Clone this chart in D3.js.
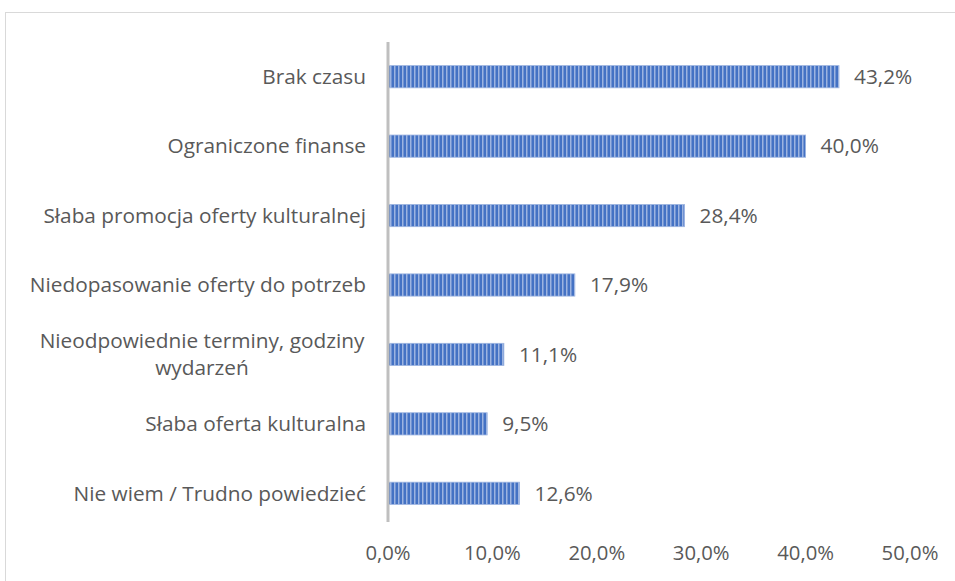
<!DOCTYPE html>
<html>
<head>
<meta charset="utf-8">
<script src="https://cdn.jsdelivr.net/npm/d3@7"></script>
<style>
  body { margin: 0; background: #fff; }
  text { font-family: "Open Sans", sans-serif; fill: #595959; }
</style>
</head>
<body>
<svg id="chart" width="955" height="581"></svg>
<script>
var categories = ["Brak czasu", "Ograniczone finanse", "Słaba promocja oferty kulturalnej",
  "Niedopasowanie oferty do potrzeb", "Nieodpowiednie terminy, godziny|wydarzeń",
  "Słaba oferta kulturalna", "Nie wiem / Trudno powiedzieć"];
var values = [43.2, 40.0, 28.4, 17.9, 11.1, 9.5, 12.6];
var ticks = [0, 10, 20, 30, 40, 50];

var svg = d3.select("#chart"),
    margin = {top: 42, right: 45, bottom: 59, left: 388},
    width = +svg.attr("width") - margin.left - margin.right,
    height = +svg.attr("height") - margin.top - margin.bottom;

// chart frame
svg.append("rect")
    .attr("x", 5.5).attr("y", 12.5)
    .attr("width", 960).attr("height", 600)
    .attr("fill", "none").attr("stroke", "#d9d9d9");

var defs = svg.append("defs");
var pat = defs.append("pattern")
    .attr("id", "stripes")
    .attr("patternUnits", "userSpaceOnUse")
    .attr("width", 4).attr("height", 4);
pat.append("rect").attr("width", 4).attr("height", 4).attr("fill", "#4472c4");
pat.append("rect").attr("x", 2).attr("width", 1.5).attr("height", 4).attr("fill", "#9db4e0");

var g = svg.append("g").attr("transform", "translate(" + margin.left + "," + margin.top + ")");

var x = d3.scaleLinear().domain([0, 50]).range([0, 522]);
var y = d3.scaleBand().domain(categories).range([0, height + 6]).paddingInner(0.68).paddingOuter(0.34);

var fs = 20.8;

g.selectAll(".bar")
  .data(values)
  .enter().append("rect")
    .attr("class", "bar")
    .attr("x", 0)
    .attr("y", function(d, i) { return y(categories[i]); })
    .attr("width", function(d) { return x(d); })
    .attr("height", y.bandwidth())
    .attr("fill", "url(#stripes)")
    .attr("stroke", "#9db4e0")
    .attr("stroke-width", 0.8);

// value labels
g.selectAll(".val")
  .data(values)
  .enter().append("text")
    .attr("class", "val")
    .attr("x", function(d) { return x(d) + 15; })
    .attr("y", function(d, i) { return y(categories[i]) + y.bandwidth() / 2; })
    .attr("dy", "0.35em")
    .attr("font-size", fs)
    .text(function(d) { return d.toFixed(1).replace(".", ",") + "%"; });

// category labels
var lab = g.selectAll(".cat")
  .data(categories)
  .enter().append("text")
    .attr("class", "cat")
    .attr("text-anchor", "middle")
    .attr("font-size", fs)
    .attr("y", function(d) { return y(d) + y.bandwidth() / 2; });
lab.each(function(d) {
  var lines = d.split("|");
  var t = d3.select(this);
  if (lines.length === 1) {
    t.attr("text-anchor", "end").append("tspan").attr("x", -22).attr("dy", "0.35em").text(d);
  } else {
    lines.forEach(function(l, k) {
      t.append("tspan").attr("x", -186)
        .attr("dy", k === 0 ? "-0.3em" : "1.3em").text(l);
    });
  }
});

// axis line
g.append("line")
    .attr("x1", 0).attr("x2", 0)
    .attr("y1", 0).attr("y2", height)
    .attr("stroke", "#bfbfbf").attr("stroke-width", 3);

// x tick labels
g.append("g")
  .selectAll("text")
  .data(ticks)
  .enter().append("text")
    .attr("x", function(d) { return x(d); })
    .attr("y", height + 31)
    .attr("dy", "0.35em")
    .attr("text-anchor", "middle")
    .attr("font-size", fs - 0.5)
    .text(function(d) { return d.toFixed(1).replace(".", ",") + "%"; });
</script>
</body>
</html>
